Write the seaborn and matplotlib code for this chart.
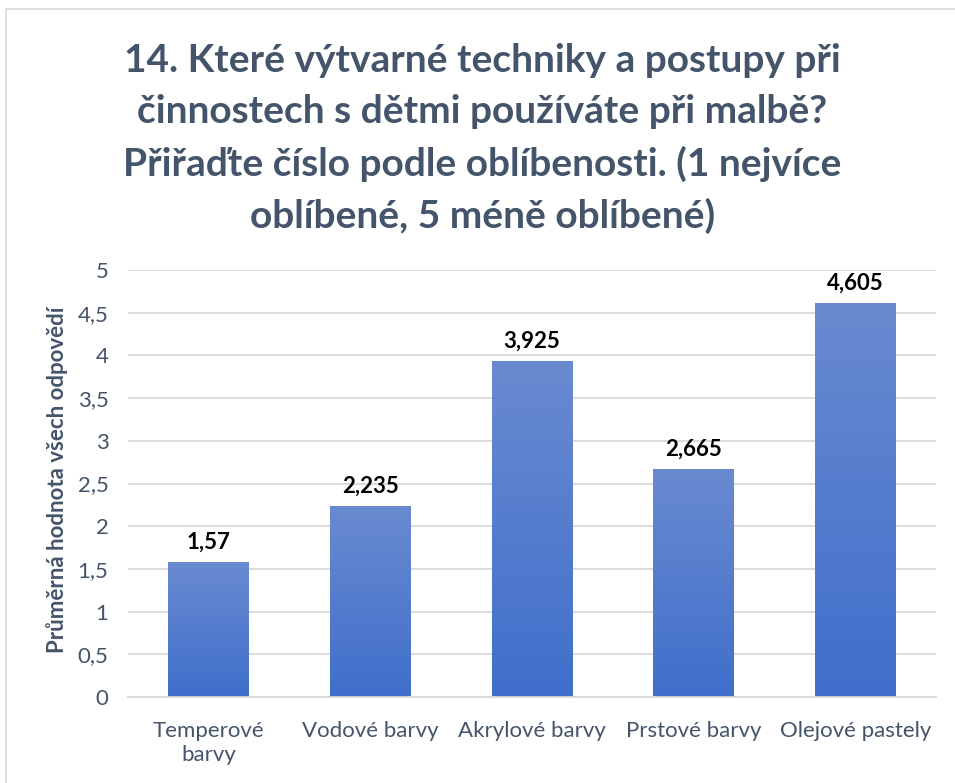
import matplotlib
matplotlib.use("Agg")
import matplotlib.pyplot as plt
import seaborn as sns
import numpy as np
import pandas as pd
from matplotlib.patches import Rectangle
from matplotlib.colors import LinearSegmentedColormap

categories = ["Temperové\nbarvy", "Vodové barvy", "Akrylové barvy", "Prstové barvy", "Olejové pastely"]
values = [1.57, 2.235, 3.925, 2.665, 4.605]
value_labels = ["1,57", "2,235", "3,925", "2,665", "4,605"]
y_ticks = [0, 0.5, 1, 1.5, 2, 2.5, 3, 3.5, 4, 4.5, 5]
y_tick_labels = ["0", "0,5", "1", "1,5", "2", "2,5", "3", "3,5", "4", "4,5", "5"]
title = ("14. Které výtvarné techniky a postupy při\n"
         "činnostech s dětmi používáte při malbě?\n"
         "Přiřaďte číslo podle oblíbenosti. (1 nejvíce\n"
         "oblíbené, 5 méně oblíbené)")
y_label = "Průměrná hodnota všech odpovědí"

sns.set_theme(style="white")
plt.rcParams["font.family"] = ["Lato", "DejaVu Sans"]

TXT = "#44546A"
GRID = "#D9D9D9"

fig = plt.figure(figsize=(9.55, 7.83), dpi=100)
ax = fig.add_axes([128 / 955, 1 - 697 / 783, 808 / 955, (697 - 270) / 783])

df = pd.DataFrame({"cat": categories, "val": values})
sns.barplot(data=df, x="cat", y="val", ax=ax, width=0.5, color="#4472C4", saturation=1)

cmap = LinearSegmentedColormap.from_list("g", ["#3F6FCB", "#6A8AD0"])
grad = np.linspace(0, 1, 256).reshape(-1, 1)
for p in ax.patches:
    x, w, h = p.get_x(), p.get_width(), p.get_height()
    ax.imshow(grad, extent=[x, x + w, 0, h], origin="lower", aspect="auto",
              cmap=cmap, zorder=2, interpolation="bicubic")
    p.set_visible(False)

ax.set_xlim(-0.5, 4.5)
ax.set_ylim(0, 5)
ax.set_yticks(y_ticks)
ax.set_yticklabels(y_tick_labels)
ax.yaxis.grid(True, color=GRID, lw=1.3)
ax.set_axisbelow(True)
for s in ["top", "right", "left"]:
    ax.spines[s].set_visible(False)
ax.spines["bottom"].set_color(GRID)
ax.spines["bottom"].set_linewidth(1.3)
ax.spines["bottom"].set_zorder(3)

ax.tick_params(axis="both", length=0, labelcolor=TXT, labelsize=16)
ax.tick_params(axis="y", pad=14)
ax.tick_params(axis="x", pad=17)
for t in ax.get_xticklabels():
    t.set_linespacing(1.3)
ax.set_xlabel("")
ax.set_ylabel(y_label, color=TXT, fontsize=16, fontweight="bold")
ax.yaxis.set_label_coords(-0.074, 0.508)

for i, (v, lab) in enumerate(zip(values, value_labels)):
    ax.annotate(lab, (i, v), xytext=(0, 7), textcoords="offset points",
                ha="center", va="bottom", fontsize=16, fontweight="bold", color="black")

fig.text(0.505, 0.823, title, ha="center", va="center", fontsize=28,
         fontweight="bold", color=TXT, linespacing=1.55)

fig.patches.append(Rectangle((6 / 955, -0.1), 1.1, 1 - 9 / 783 + 0.1,
                             transform=fig.transFigure, fill=False,
                             ec=GRID, lw=1.2))

fig.savefig("out.png", dpi=100)
